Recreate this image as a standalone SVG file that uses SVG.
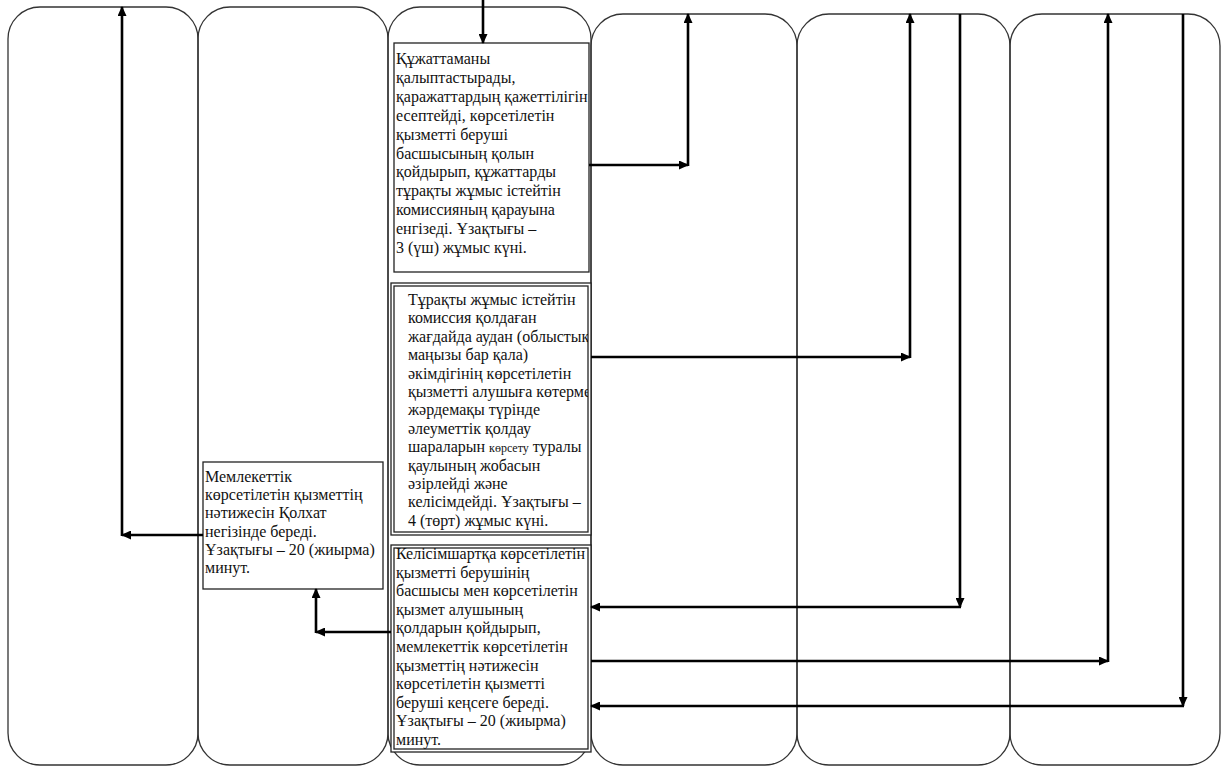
<svg xmlns="http://www.w3.org/2000/svg" width="1225" height="770" viewBox="0 0 1225 770">
<style>
.lane{fill:none;stroke:#333;stroke-width:1.3}
.box{fill:#fff;stroke:#222;stroke-width:1.3}
.t{font-family:"Liberation Serif","Times New Roman",serif;font-size:16px;fill:#111}
.c{fill:none;stroke:#000;stroke-width:2.6}
</style>
<defs>
<marker id="ah" markerUnits="userSpaceOnUse" markerWidth="10" markerHeight="9" refX="9" refY="4.5" orient="auto">
<path d="M0,0 L10,4.5 L0,9 z" fill="#000"/>
</marker>
<clipPath id="clip1"><rect x="394" y="43" width="195" height="229"/></clipPath>
<clipPath id="clip2"><rect x="394" y="286" width="194" height="246"/></clipPath>
<clipPath id="clip3"><rect x="394" y="548" width="194" height="201"/></clipPath>
</defs>
<rect width="1225" height="770" fill="#fff"/>
<g id="lanes">
<rect class="lane" x="8" y="7" width="190" height="758" rx="32" ry="32"/>
<rect class="lane" x="198" y="7" width="190" height="758" rx="32" ry="32"/>
<rect class="lane" x="388" y="7" width="203" height="758" rx="32" ry="32"/>
<rect class="lane" x="591" y="14" width="206" height="751" rx="32" ry="32"/>
<rect class="lane" x="797" y="14" width="213" height="751" rx="32" ry="32"/>
<rect class="lane" x="1010" y="14" width="210" height="751" rx="32" ry="32"/>
</g>
<g id="node1">
<rect class="box" x="394" y="43" width="195" height="229"/>
<text class="t" clip-path="url(#clip1)">
<tspan x="396" y="64">Құжаттаманы</tspan>
<tspan x="396" y="82.9">қалыптастырады,</tspan>
<tspan x="396" y="101.8">қаражаттардың қажеттілігін</tspan>
<tspan x="396" y="120.7">есептейді, көрсетілетін</tspan>
<tspan x="396" y="139.6">қызметті беруші</tspan>
<tspan x="396" y="158.5">басшысының қолын</tspan>
<tspan x="396" y="177.4">қойдырып, құжаттарды</tspan>
<tspan x="396" y="196.3">тұрақты жұмыс істейтін</tspan>
<tspan x="396" y="215.2">комиссияның қарауына</tspan>
<tspan x="396" y="234.1">енгізеді. Ұзақтығы –</tspan>
<tspan x="396" y="253">3 (үш) жұмыс күні.</tspan>
</text>
</g>
<g id="node2">
<rect class="box" x="391" y="283" width="200" height="252"/>
<rect class="box" x="394" y="286" width="194" height="246"/>
<text class="t" clip-path="url(#clip2)">
<tspan x="408" y="305">Тұрақты жұмыс істейтін</tspan>
<tspan x="408" y="323.4">комиссия қолдаған</tspan>
<tspan x="408" y="341.8">жағдайда аудан (облыстық</tspan>
<tspan x="408" y="360.2">маңызы бар қала)</tspan>
<tspan x="408" y="378.6">әкімдігінің көрсетілетін</tspan>
<tspan x="408" y="397">қызметті алушыға көтерме</tspan>
<tspan x="408" y="415.4">жәрдемақы түрінде</tspan>
<tspan x="408" y="433.8">әлеуметтік қолдау</tspan>
<tspan x="408" y="452.2">шараларын <tspan font-size="12px">көрсету</tspan> туралы</tspan>
<tspan x="408" y="470.6">қаулының жобасын</tspan>
<tspan x="408" y="489">әзірлейді және</tspan>
<tspan x="408" y="507.4">келісімдейді. Ұзақтығы –</tspan>
<tspan x="408" y="525.8">4 (төрт)  жұмыс күні.</tspan>
</text>
</g>
<g id="node3">
<rect class="box" x="391" y="545" width="200" height="207"/>
<rect class="box" x="394" y="548" width="194" height="201"/>
<text class="t" clip-path="url(#clip3)">
<tspan x="396" y="559">Келісімшартқа көрсетілетін</tspan>
<tspan x="396" y="577.6">қызметті берушінің</tspan>
<tspan x="396" y="596.2">басшысы мен көрсетілетін</tspan>
<tspan x="396" y="614.8">қызмет алушының</tspan>
<tspan x="396" y="633.4">қолдарын қойдырып,</tspan>
<tspan x="396" y="652">мемлекеттік көрсетілетін</tspan>
<tspan x="396" y="670.6">қызметтің нәтижесін</tspan>
<tspan x="396" y="689.2">көрсетілетін қызметті</tspan>
<tspan x="396" y="707.8">беруші кеңсеге береді.</tspan>
<tspan x="396" y="726.4">Ұзақтығы – 20 (жиырма)</tspan>
<tspan x="396" y="745">минут.</tspan>
</text>
</g>
<g id="node4">
<rect class="box" x="203" y="462" width="180" height="127"/>
<text class="t">
<tspan x="205" y="482">Мемлекеттік</tspan>
<tspan x="205" y="500.2">көрсетілетін қызметтің</tspan>
<tspan x="205" y="518.4">нәтижесін Қолхат</tspan>
<tspan x="205" y="536.6">негізінде береді.</tspan>
<tspan x="205" y="554.8">Ұзақтығы – 20 (жиырма)</tspan>
<tspan x="205" y="573">минут.</tspan>
</text>
</g>
<g id="connectors">
<line class="c" x1="483" y1="0" x2="483" y2="43" marker-end="url(#ah)"/>
<line class="c" x1="589" y1="165" x2="688" y2="165" marker-end="url(#ah)"/>
<line class="c" x1="688" y1="166" x2="688" y2="14" marker-end="url(#ah)"/>
<line class="c" x1="591" y1="357" x2="910" y2="357" marker-end="url(#ah)"/>
<line class="c" x1="910" y1="358" x2="910" y2="14" marker-end="url(#ah)"/>
<line class="c" x1="960" y1="14" x2="960" y2="607" marker-end="url(#ah)"/>
<line class="c" x1="961" y1="607" x2="591" y2="607" marker-end="url(#ah)"/>
<line class="c" x1="591" y1="661" x2="1108" y2="661" marker-end="url(#ah)"/>
<line class="c" x1="1108" y1="662" x2="1108" y2="14" marker-end="url(#ah)"/>
<line class="c" x1="1183" y1="14" x2="1183" y2="706" marker-end="url(#ah)"/>
<line class="c" x1="1184" y1="706" x2="591" y2="706" marker-end="url(#ah)"/>
<line class="c" x1="203" y1="535" x2="122" y2="535" marker-end="url(#ah)"/>
<line class="c" x1="122" y1="536" x2="122" y2="7" marker-end="url(#ah)"/>
<line class="c" x1="391" y1="632" x2="316" y2="632" marker-end="url(#ah)"/>
<line class="c" x1="316" y1="633" x2="316" y2="589" marker-end="url(#ah)"/>
</g>
</svg>
